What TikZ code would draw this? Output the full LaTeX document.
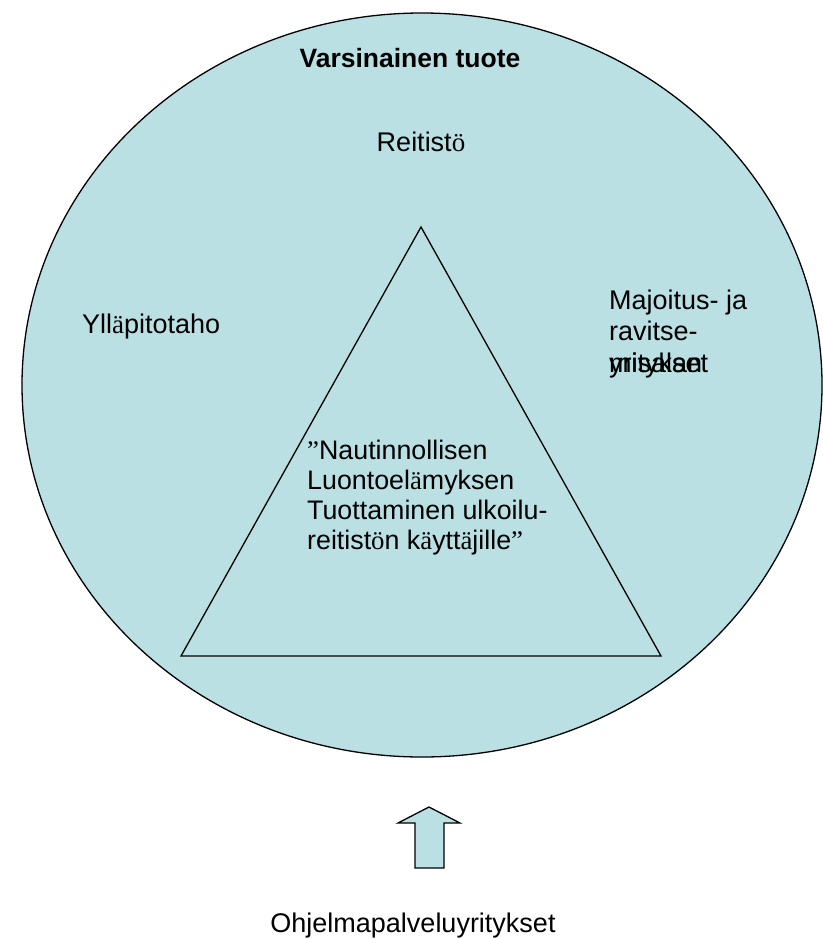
\documentclass[tikz,border=0pt]{standalone}
\usepackage{fontspec}
\usetikzlibrary{shapes.geometric}
\setmainfont{Liberation Sans}
\newfontfamily\tms{Liberation Serif}
\definecolor{fillblue}{RGB}{186,224,228}
\begin{document}
\begin{tikzpicture}[x=1pt,y=-1pt,
  lbl/.style={inner sep=0pt, font=\fontsize{27}{32}\selectfont},
  corelbl/.style={inner sep=0pt, font=\fontsize{26.8}{30}\selectfont},
  shapeline/.style={draw=black, line width=1.3pt, line join=miter}]
\useasboundingbox (0,0) rectangle (822,939);
% outer ellipse
\node[ellipse, shapeline, fill=fillblue, minimum width=800pt, minimum height=744pt, inner sep=0pt] (prod) at (422,385) {};
% triangle
\coordinate (tA) at (421,227);
\coordinate (tB) at (181,656);
\coordinate (tC) at (661,656);
\draw[shapeline] (tA) -- (tB) -- (tC) -- cycle;
% labels
\node[lbl, font=\fontsize{26.5}{32}\selectfont\bfseries, anchor=base] (title) at (410,68) {Varsinainen tuote};
\node[lbl] (reit) at (421,142) {Reitist{\tms ö}};
\node[lbl, anchor=base west] (yll) at (82,333) {Yll{\tms ä}pitotaho};
\node[lbl, anchor=base west] (maj1) at (609,309) {Majoitus- ja};
\node[lbl, anchor=base west] (maj2) at (609,340) {ravitse-};
\node[lbl, anchor=base west] (maj3) at (609,372) {yritykset};
\node[lbl, anchor=base west] (maj4) at (609,372) {misalan};
\node[corelbl, anchor=north west, align=left] (core) at (307,440)
  {{\tms ”}Nautinnollisen\\Luontoel{\tms ä}myksen\\Tuottaminen ulkoilu-\\reitist{\tms ö}n k{\tms ä}ytt{\tms ä}jille{\tms ”}};
% block arrow
\coordinate (a1) at (429,807);
\coordinate (a2) at (460,823);
\coordinate (a3) at (444,823);
\coordinate (a4) at (444,868);
\coordinate (a5) at (415,868);
\coordinate (a6) at (415,823);
\coordinate (a7) at (398,823);
\draw[shapeline, fill=fillblue] (a1) -- (a2) -- (a3) -- (a4) -- (a5) -- (a6) -- (a7) -- cycle;
\node[lbl, anchor=base] (ohj) at (413,932) {Ohjelmapalveluyritykset};
\end{tikzpicture}
\end{document}
